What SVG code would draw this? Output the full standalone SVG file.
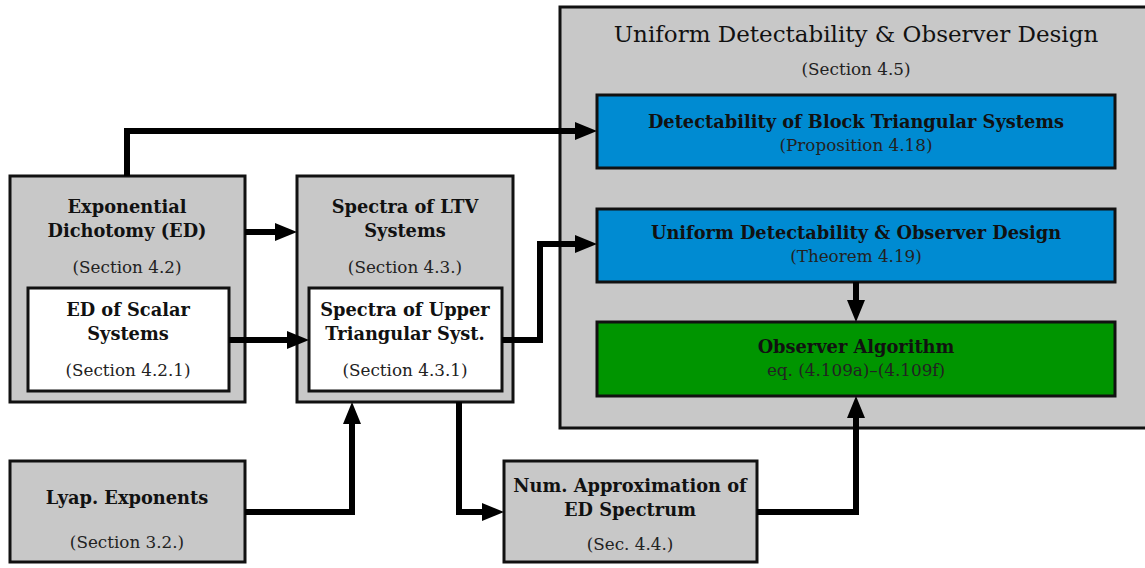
<svg xmlns="http://www.w3.org/2000/svg" width="1145" height="568" viewBox="0 0 1145 568">
<defs>
<marker id="ah" viewBox="0 0 22 18" refX="0" refY="9" markerWidth="22" markerHeight="18" markerUnits="userSpaceOnUse" orient="auto">
<path d="M0,0 L22,9 L0,18 z" fill="#000"/>
</marker>
<style>
.gray{fill:#c8c8c8;stroke:#111;stroke-width:3}
.white{fill:#fff;stroke:#111;stroke-width:3}
.blue{fill:#008bd2;stroke:#111;stroke-width:3}
.green{fill:#009500;stroke:#111;stroke-width:3}
.b{font-family:"DejaVu Serif","Liberation Serif",serif;font-weight:bold;font-size:17.8px;fill:#111;text-anchor:middle}
.r{font-family:"DejaVu Serif","Liberation Serif",serif;font-size:16.8px;fill:#222;text-anchor:middle}
.t{font-family:"DejaVu Serif","Liberation Serif",serif;font-size:23px;fill:#111;text-anchor:middle}
.c{fill:none;stroke:#000;stroke-width:6;marker-end:url(#ah)}
</style>
</defs>
<g id="container-45">
<rect class="gray" x="560" y="7" width="600" height="421"/>
<text class="t" x="856" y="42">Uniform Detectability &amp; Observer Design</text>
<text class="r" x="856" y="75">(Section 4.5)</text>
</g>
<g id="detect-block">
<rect class="blue" x="597" y="95" width="518" height="73"/>
<text class="b" x="856" y="128">Detectability of Block Triangular Systems</text>
<text class="r" x="856" y="151">(Proposition 4.18)</text>
</g>
<g id="uniform-detect">
<rect class="blue" x="597" y="209" width="518" height="73"/>
<text class="b" x="856" y="239">Uniform Detectability &amp; Observer Design</text>
<text class="r" x="856" y="262">(Theorem 4.19)</text>
</g>
<g id="observer-alg">
<rect class="green" x="597" y="322" width="518" height="74"/>
<text class="b" x="856" y="353">Observer Algorithm</text>
<text class="r" x="856" y="376">eq. (4.109a)–(4.109f)</text>
</g>
<g id="ed">
<rect class="gray" x="10" y="176" width="235" height="226"/>
<text class="b" x="127" y="213">Exponential</text>
<text class="b" x="127" y="237">Dichotomy (ED)</text>
<text class="r" x="127" y="273">(Section 4.2)</text>
</g>
<g id="ed-scalar">
<rect class="white" x="28" y="288" width="201" height="103"/>
<text class="b" x="128" y="316">ED of Scalar</text>
<text class="b" x="128" y="340">Systems</text>
<text class="r" x="128" y="376">(Section 4.2.1)</text>
</g>
<g id="spectra-ltv">
<rect class="gray" x="297" y="176" width="216" height="226"/>
<text class="b" x="405" y="213">Spectra of LTV</text>
<text class="b" x="405" y="237">Systems</text>
<text class="r" x="405" y="273">(Section 4.3.)</text>
</g>
<g id="spectra-upper">
<rect class="white" x="309" y="288" width="193" height="103"/>
<text class="b" x="405" y="316">Spectra of Upper</text>
<text class="b" x="405" y="340">Triangular Syst.</text>
<text class="r" x="405" y="376">(Section 4.3.1)</text>
</g>
<g id="lyap">
<rect class="gray" x="10" y="461" width="235" height="101"/>
<text class="b" x="127" y="504">Lyap. Exponents</text>
<text class="r" x="127" y="548">(Section 3.2.)</text>
</g>
<g id="num-approx">
<rect class="gray" x="504" y="461" width="253" height="101"/>
<text class="b" x="630" y="492">Num. Approximation of</text>
<text class="b" x="630" y="516">ED Spectrum</text>
<text class="r" x="630" y="550">(Sec. 4.4.)</text>
</g>
<g id="connectors">
<path class="c" d="M127,176 V131 H575"/>
<path class="c" d="M245,232 H275"/>
<path class="c" d="M229,340 H287"/>
<path class="c" d="M502,340 H540 V244 H575"/>
<path class="c" d="M245,512 H352 V424"/>
<path class="c" d="M459,402 V512 H482"/>
<path class="c" d="M757,512 H856 V418"/>
<path class="c" d="M856,282 V300"/>
</g>
</svg>
